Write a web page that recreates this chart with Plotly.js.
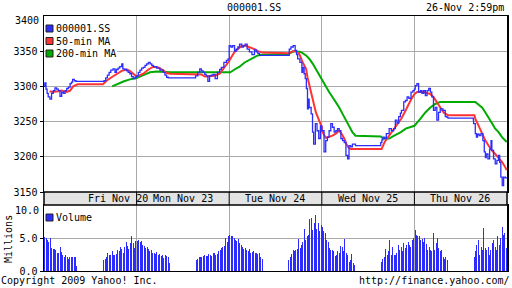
<!DOCTYPE html>
<html><head><meta charset="utf-8">
<script src="https://cdn.plot.ly/plotly-3.0.1.min.js"></script>
<style>html,body{margin:0;padding:0;background:#fff}#chart{width:512px;height:288px}</style>
</head><body><div id="chart"></div>
<script>
const tradingDays = ['11-20','11-23','11-24','11-25','11-26'];
const dayLabels = ['Fri Nov 20','Mon Nov 23','Tue Nov 24','Wed Nov 25','Thu Nov 26'];
const priceTicks = [3150,3200,3250,3300,3350,3400];
const volumeTicks = [0,5,10];

// 000001.SS last price
const priceTime = [
'11-20 09:30','11-20 09:33','11-20 09:37','11-20 09:41','11-20 09:45','11-20 09:51','11-20 09:57','11-20 10:03','11-20 10:09','11-20 10:15','11-20 10:21','11-20 10:27','11-20 10:33','11-20 10:39','11-20 10:45','11-20 10:51','11-20 10:57','11-20 11:03','11-20 11:08','11-20 11:12','11-20 11:18','11-20 11:24','11-20 11:30','11-20 13:04','11-20 13:10','11-20 13:16','11-20 13:22','11-20 13:28','11-20 13:36','11-20 13:43','11-20 13:48','11-20 13:54','11-20 14:00','11-20 14:07','11-20 14:11','11-20 14:18','11-20 14:25','11-20 14:30','11-20 14:36','11-20 14:42','11-20 14:48','11-20 14:55','11-20 15:00',
'11-23 09:30','11-23 09:36','11-23 09:42','11-23 09:48','11-23 09:54','11-23 10:00','11-23 10:06','11-23 10:12','11-23 10:18','11-23 10:24','11-23 10:30','11-23 10:42','11-23 10:53','11-23 11:05','11-23 11:11','11-23 11:17','11-23 11:23','11-23 11:30','11-23 13:00','11-23 13:08','11-23 13:15','11-23 13:21','11-23 13:27','11-23 13:33','11-23 13:38','11-23 13:44','11-23 13:50','11-23 13:56','11-23 14:02','11-23 14:10','11-23 14:18','11-23 14:26','11-23 14:32','11-23 14:41','11-23 14:50','11-23 14:56','11-23 15:00',
'11-24 09:30','11-24 09:36','11-24 09:42','11-24 09:49','11-24 09:55','11-24 10:01','11-24 10:07','11-24 10:15','11-24 10:21','11-24 10:27','11-24 10:34','11-24 10:42','11-24 10:51','11-24 11:00','11-24 11:06','11-24 11:12','11-24 11:18','11-24 11:30','11-24 13:04','11-24 13:10','11-24 13:18','11-24 13:25','11-24 13:30','11-24 13:34','11-24 13:42','11-24 13:49','11-24 13:52','11-24 13:57','11-24 14:01','11-24 14:05','11-24 14:09','11-24 14:12','11-24 14:15','11-24 14:22','11-24 14:27','11-24 14:31','11-24 14:37','11-24 14:43','11-24 14:49','11-24 14:55','11-24 15:00',
'11-25 09:30','11-25 09:38','11-25 09:44','11-25 09:50','11-25 09:56','11-25 10:02','11-25 10:08','11-25 10:14','11-25 10:20','11-25 10:26','11-25 10:32','11-25 10:38','11-25 10:44','11-25 10:50','11-25 10:56','11-25 11:02','11-25 11:07','11-25 11:13','11-25 11:19','11-25 11:30','11-25 13:00','11-25 13:04','11-25 13:08','11-25 13:14','11-25 13:20','11-25 13:30','11-25 13:38','11-25 13:46','11-25 13:52','11-25 13:58','11-25 14:04','11-25 14:10','11-25 14:14','11-25 14:22','11-25 14:28','11-25 14:34','11-25 14:40','11-25 14:48','11-25 14:55','11-25 15:00',
'11-26 09:30','11-26 09:33','11-26 09:39','11-26 09:45','11-26 09:52','11-26 09:57','11-26 10:03','11-26 10:09','11-26 10:15','11-26 10:21','11-26 10:27','11-26 10:32','11-26 10:38','11-26 10:44','11-26 10:50','11-26 10:56','11-26 11:02','11-26 11:12','11-26 11:20','11-26 11:26','11-26 11:30','11-26 13:00','11-26 13:01','11-26 13:07','11-26 13:11','11-26 13:15','11-26 13:21','11-26 13:27','11-26 13:34','11-26 13:39','11-26 13:43','11-26 13:46','11-26 13:52','11-26 13:58','11-26 14:03','11-26 14:06','11-26 14:12','11-26 14:18','11-26 14:24','11-26 14:30','11-26 14:34','11-26 14:38','11-26 14:43','11-26 14:48','11-26 14:54','11-26 14:59'
];
const priceValue = [
3300,3305,3296,3290,3285,3282,3290,3294,3298,3296,3294,3286,3292,3290,3294,3297,3299,3304,3306,3310,3308,3307,3307,3308,3312,3316,3320,3323,3325,3320,3324,3326,3328,3332,3325,3324,3322,3320,3318,3314,3311,3313,3313,
3315,3320,3323,3326,3327,3330,3332,3334,3332,3330,3328,3326,3323,3320,3316,3313,3312,3312,3315,3320,3325,3322,3320,3317,3315,3307,3315,3316,3317,3311,3320,3324,3327,3334,3337,3339,3340,
3358,3356,3358,3350,3353,3356,3360,3356,3358,3360,3353,3349,3345,3352,3349,3347,3344,3344,3353,3356,3358,3351,3345,3339,3334,3320,3327,3318,3311,3297,3268,3282,3270,3261,3235,3218,3247,3237,3226,3244,3237,
3237,3207,3223,3228,3237,3247,3242,3235,3237,3240,3237,3226,3223,3220,3202,3197,3216,3214,3218,3216,3220,3224,3228,3226,3233,3240,3237,3240,3252,3248,3257,3262,3266,3278,3280,3285,3283,3292,3294,3296,
3296,3301,3304,3292,3294,3290,3294,3287,3294,3297,3292,3285,3266,3270,3252,3263,3268,3266,3257,3256,3255,3252,3247,3233,3228,3232,3230,3233,3223,3207,3199,3204,3197,3211,3223,3209,3197,3190,3195,3202,3192,3171,3159,3171,3170,3171
];

// 50-min moving average
const ma50Time = [
'11-20 09:50','11-20 10:00','11-20 10:20','11-20 10:33','11-20 10:51','11-20 11:03','11-20 11:14','11-20 11:27','11-20 11:30','11-20 13:00','11-20 13:13','11-20 13:31','11-20 13:49','11-20 14:07','11-20 14:25','11-20 14:36','11-20 14:48','11-20 15:00',
'11-23 09:30','11-23 09:54','11-23 10:12','11-23 10:30','11-23 10:47','11-23 11:05','11-23 11:17','11-23 11:30','11-23 13:00','11-23 13:21','11-23 13:33','11-23 13:50','11-23 14:08','11-23 14:26','11-23 14:38','11-23 14:50','11-23 15:00',
'11-24 09:30','11-24 09:37','11-24 09:49','11-24 10:01','11-24 10:13','11-24 10:27','11-24 10:42','11-24 11:00','11-24 11:12','11-24 11:30','11-24 13:03','11-24 13:16','11-24 13:28','11-24 13:40','11-24 13:52','11-24 14:04','11-24 14:09','11-24 14:15','11-24 14:21','11-24 14:27','11-24 14:33','11-24 14:39','11-24 14:47','11-24 14:54','11-24 15:00',
'11-25 09:30','11-25 09:38','11-25 09:44','11-25 09:54','11-25 10:08','11-25 10:20','11-25 10:32','11-25 10:40','11-25 10:50','11-25 10:58','11-25 11:05','11-25 11:13','11-25 11:30','11-25 13:03','11-25 13:14','11-25 13:26','11-25 13:38','11-25 13:49','11-25 14:01','11-25 14:13','11-25 14:25','11-25 14:37','11-25 14:49','11-25 15:00',
'11-26 09:30','11-26 09:39','11-26 10:03','11-26 10:15','11-26 10:27','11-26 10:38','11-26 10:50','11-26 11:02','11-26 11:14','11-26 11:26','11-26 11:30','11-26 13:04','11-26 13:07','11-26 13:19','11-26 13:31','11-26 13:43','11-26 13:54','11-26 14:06','11-26 14:18','11-26 14:30','11-26 14:42','11-26 14:54','11-26 14:59'
];
const ma50Value = [
3293,3292,3293,3294,3292,3294,3300,3303,3303,3303,3308,3313,3318,3322,3324,3322,3318,3314,
3314,3318,3324,3328,3327,3323,3319,3318,3318,3317,3314,3314,3315,3318,3324,3331,3336,
3336,3341,3349,3353,3357,3358,3356,3353,3350,3348,3347,3350,3350,3346,3334,3325,3313,3304,3294,3285,3273,3263,3254,3247,3242,
3237,3230,3227,3228,3230,3233,3237,3233,3226,3218,3213,3211,3211,3211,3221,3228,3235,3240,3247,3254,3263,3273,3282,3289,
3289,3292,3292,3290,3289,3285,3278,3270,3263,3260,3259,3259,3254,3244,3233,3223,3216,3209,3204,3199,3193,3185,3181
];

// 200-min moving average
const ma200Time = [
'11-20 13:33','11-20 13:49','11-20 14:13','11-20 14:36','11-20 15:00',
'11-23 09:30','11-23 09:54','11-23 10:18','11-23 10:42','11-23 11:30','11-23 13:00','11-23 15:00',
'11-24 09:30','11-24 09:49','11-24 10:07','11-24 10:25','11-24 10:42','11-24 11:00','11-24 11:12','11-24 11:24','11-24 11:30','11-24 13:00','11-24 13:22','11-24 13:45','11-24 14:04','11-24 14:16','11-24 14:28','11-24 14:45','11-24 15:00',
'11-25 09:30','11-25 09:44','11-25 09:56','11-25 10:08','11-25 10:20','11-25 10:32','11-25 10:44','11-25 10:56','11-25 11:08','11-25 11:19','11-25 11:30','11-25 13:00','11-25 13:08','11-25 13:30','11-25 13:48','11-25 14:12','11-25 14:29','11-25 15:00',
'11-26 09:30','11-26 09:51','11-26 10:09','11-26 10:27','11-26 10:44','11-26 11:02','11-26 11:30','11-26 13:07','11-26 13:19','11-26 13:31','11-26 13:43','11-26 13:54','11-26 14:06','11-26 14:18','11-26 14:30','11-26 14:42','11-26 14:54','11-26 14:59'
];
const ma200Value = [
3300,3303,3307,3310,3312,
3312,3316,3320,3321,3320,3320,3320,
3319,3324,3328,3334,3338,3341,3344,3345,3345,3346,3350,3349,3344,3339,3332,3320,3311,
3309,3299,3292,3285,3278,3270,3261,3252,3242,3235,3230,3229,3226,3226,3230,3235,3240,3244,
3244,3254,3263,3270,3275,3278,3278,3278,3274,3270,3263,3255,3248,3240,3235,3228,3223,3221
];

// 5-minute volume, millions (24 morning bars then 24 afternoon bars per day)
const volFri = [5.2,5.1,4.8,4.5,5.0,3.5,3.3,3.4,3.2,2.7,2.8,3.7,2.9,2.5,2.2,2.4,2.2,1.8,2.2,2.2,2.1,2.2,2.2,0.7,
                1.7,1.8,2.2,2.7,2.4,2.5,3.0,2.5,2.4,2.6,3.2,3.0,3.7,3.4,2.8,3.7,4.5,3.9,3.4,4.3,5.3,4.3,3.5,4.6];
const volMon = [4.6,4.7,4.5,4.6,4.0,3.8,3.5,3.6,3.3,3.0,3.2,2.8,2.7,2.6,2.9,2.4,2.6,2.3,2.5,2.0,2.4,2.3,2.1,1.2,
                1.7,1.8,2.1,2.2,2.1,2.3,2.5,2.3,2.3,2.6,2.5,2.3,2.7,2.8,2.4,2.6,3.1,3.2,3.5,3.6,3.9,5.0,4.5,5.4];
const volTue = [5.5,5.4,5.3,5.1,4.8,4.6,4.9,4.3,4.0,3.6,3.3,3.5,3.2,3.0,3.3,2.7,2.9,3.0,2.8,2.8,2.6,2.7,2.2,1.8,
                1.7,2.1,2.6,3.2,3.0,3.2,3.3,4.9,3.5,4.0,4.4,6.5,4.8,5.3,5.5,7.9,8.1,6.2,7.3,8.6,6.4,7.3,6.1,7.1];
const volWed = [6.7,6.1,5.8,4.8,4.5,3.5,3.2,3.2,3.0,2.3,2.4,3.0,2.7,3.8,3.6,3.0,4.9,2.7,2.4,1.4,1.7,2.6,1.2,0.9,
                1.4,1.8,2.2,3.3,2.5,3.0,4.8,2.5,3.7,2.5,2.5,2.7,4.0,3.2,3.7,3.0,4.3,3.5,4.0,4.5,4.0,3.7,4.8,5.0];
const volThu = [6.2,5.5,5.3,5.3,4.8,4.9,4.4,5.0,4.2,3.2,3.7,3.2,3.1,5.8,3.2,4.3,5.0,3.5,3.0,3.2,2.2,1.9,2.2,1.7,
                2.2,3.0,4.0,4.8,2.5,3.7,3.2,6.6,3.5,3.2,3.7,2.5,3.2,4.3,4.8,3.7,3.2,5.3,4.0,5.0,6.8,5.5,5.8,3.5];

// ---- build ----
const DAY = 330; // minutes from 09:30 to 15:00
function xOf(stamp){
  const [d,t] = stamp.split(' ');
  const [h,m] = t.split(':').map(Number);
  return tradingDays.indexOf(d)*DAY + h*60 + m - 570;
}
const volDays = [volFri, volMon, volTue, volWed, volThu];
const volX = [], volY = [];
volDays.forEach((arr, d) => arr.forEach((v, i) => {
  const start = i < 24 ? 0 : 210;
  volX.push(d*DAY + start + (i % 24)*5 + 2.5);
  volY.push(v);
}));

const BLUE = '#2c2cff', RED = '#ff3333', GREEN = '#00aa00';
const FONT = {family: 'DejaVu Sans Mono, monospace', size: 10, color: '#000'};
const L = 44, R = 507, T = 16, B = 271;
const px = p => (p - L) / (R - L);
const py = p => (B - p) / (B - T);
const dayBounds = [DAY, 2*DAY, 3*DAY, 4*DAY];

const traces = [
  {x: ma200Time.map(xOf), y: ma200Value, type: 'scatter', mode: 'lines', name: '200-min MA',
   line: {color: GREEN, width: 2}, xaxis: 'x', yaxis: 'y', hoverinfo: 'skip'},
  {x: ma50Time.map(xOf), y: ma50Value, type: 'scatter', mode: 'lines', name: '50-min MA',
   line: {color: RED, width: 2}, xaxis: 'x', yaxis: 'y', hoverinfo: 'skip'},
  {x: priceTime.map(xOf), y: priceValue, type: 'scatter', mode: 'lines', name: '000001.SS',
   line: {color: BLUE, width: 1.3, shape: 'hv'}, xaxis: 'x', yaxis: 'y', hoverinfo: 'skip'},
  {x: volX, y: volY, type: 'bar', name: 'Volume', width: 3.4,
   marker: {color: BLUE, line: {width: 0}}, xaxis: 'x2', yaxis: 'y2', hoverinfo: 'skip'}
];

const shapes = [
  {type: 'rect', xref: 'paper', yref: 'paper', x0: 0, x1: 1, y0: py(205), y1: py(192),
   fillcolor: '#e3e3e3', line: {color: '#000', width: 1.5}, layer: 'above'},
  {type: 'rect', xref: 'paper', yref: 'paper', x0: px(44.8), x1: px(117), y0: py(58), y1: py(16.8),
   fillcolor: '#fff', line: {width: 0}, layer: 'above'},
];
dayBounds.forEach(b => shapes.push({type: 'line', xref: 'x', yref: 'paper', x0: b, x1: b,
  y0: py(205), y1: py(192), line: {color: '#000', width: 1}, layer: 'above'}));
const legendItems = [['000001.SS', BLUE, 28.5], ['50-min MA', RED, 41], ['200-min MA', GREEN, 53.5], ['Volume', BLUE, 217.5]];
legendItems.forEach(([t, c, yc]) => {
  shapes.push({type: 'rect', xref: 'paper', yref: 'paper', x0: px(46), x1: px(53), y0: py(yc + 3.5), y1: py(yc - 3.5),
    fillcolor: c, line: {color: '#222', width: 1}, layer: 'above'});
});

const annotations = [];
legendItems.forEach(([t, c, yc]) => annotations.push({text: t, xref: 'paper', yref: 'paper', x: px(54), y: py(yc),
  xanchor: 'left', yanchor: 'middle', showarrow: false, font: FONT}));
const labelX = [262, DAY + 165, 2*DAY + 163, 3*DAY + 164, 4*DAY + 163];
dayLabels.forEach((t, i) => annotations.push({text: t, xref: 'x', yref: 'paper', x: labelX[i], y: py(198.5),
  xanchor: 'center', yanchor: 'middle', showarrow: false, font: FONT}));
// edge tick labels that sit nudged inside their panel
annotations.push(
  {text: String(priceTicks[priceTicks.length - 1]), xref: 'paper', yref: 'paper', x: px(41), y: py(20.5), xanchor: 'right', yanchor: 'middle', showarrow: false, font: FONT},
  {text: volumeTicks[volumeTicks.length - 1].toFixed(1), xref: 'paper', yref: 'paper', x: px(41), y: py(210.5), xanchor: 'right', yanchor: 'middle', showarrow: false, font: FONT}
);
annotations.push(
  {text: '000001.SS', xref: 'paper', yref: 'paper', x: px(254), y: py(7.5), xanchor: 'center', yanchor: 'middle', showarrow: false, font: FONT},
  {text: '26-Nov 2:59pm', xref: 'paper', yref: 'paper', x: px(506), y: py(7.5), xanchor: 'right', yanchor: 'middle', showarrow: false, font: FONT},
  {text: 'Millions', xref: 'paper', yref: 'paper', x: px(8), y: py(239), textangle: -90, xanchor: 'center', yanchor: 'middle', showarrow: false, font: FONT},
  {text: 'Copyright 2009 Yahoo! Inc.', xref: 'paper', yref: 'paper', x: px(-1), y: py(280.5), xanchor: 'left', yanchor: 'middle', showarrow: false, font: FONT},
  {text: 'http://finance.yahoo.com/', xref: 'paper', yref: 'paper', x: px(512), y: py(280.5), xanchor: 'right', yanchor: 'middle', showarrow: false, font: FONT}
);

const xBase = {range: [0, 5*DAY], tickvals: dayBounds, showticklabels: false, showgrid: true,
  gridcolor: '#aaaaaa', gridwidth: 1, zeroline: false, showline: true, mirror: true,
  linecolor: '#000', linewidth: 1, ticks: '', fixedrange: true};
const layout = {
  width: 512, height: 288,
  margin: {l: L, r: 512 - R, t: T, b: 288 - B, pad: 0},
  paper_bgcolor: '#fff', plot_bgcolor: '#fff',
  showlegend: false, font: FONT,
  bargap: 0,
  xaxis: Object.assign({}, xBase, {anchor: 'y'}),
  xaxis2: Object.assign({}, xBase, {anchor: 'y2', matches: 'x'}),
  yaxis: {domain: [py(192), 1], range: [3150, 3400], tickvals: priceTicks.slice(0, -1), showgrid: true, gridcolor: '#aaaaaa',
    zeroline: false, showline: true, mirror: true, linecolor: '#000', linewidth: 1.5,
    ticks: 'outside', ticklen: 3, tickcolor: '#000', tickfont: FONT, fixedrange: true},
  yaxis2: {domain: [0, py(205)], range: [0, 10.1], tickvals: volumeTicks.slice(0, -1), tickformat: '.1f', showgrid: true,
    gridcolor: '#aaaaaa', zeroline: false, showline: true, mirror: true, linecolor: '#000', linewidth: 1.5,
    ticks: 'outside', ticklen: 3, tickcolor: '#000', tickfont: FONT, fixedrange: true},
  shapes: shapes, annotations: annotations
};
Plotly.newPlot('chart', traces, layout, {staticPlot: true, displayModeBar: false});
</script></body></html>
